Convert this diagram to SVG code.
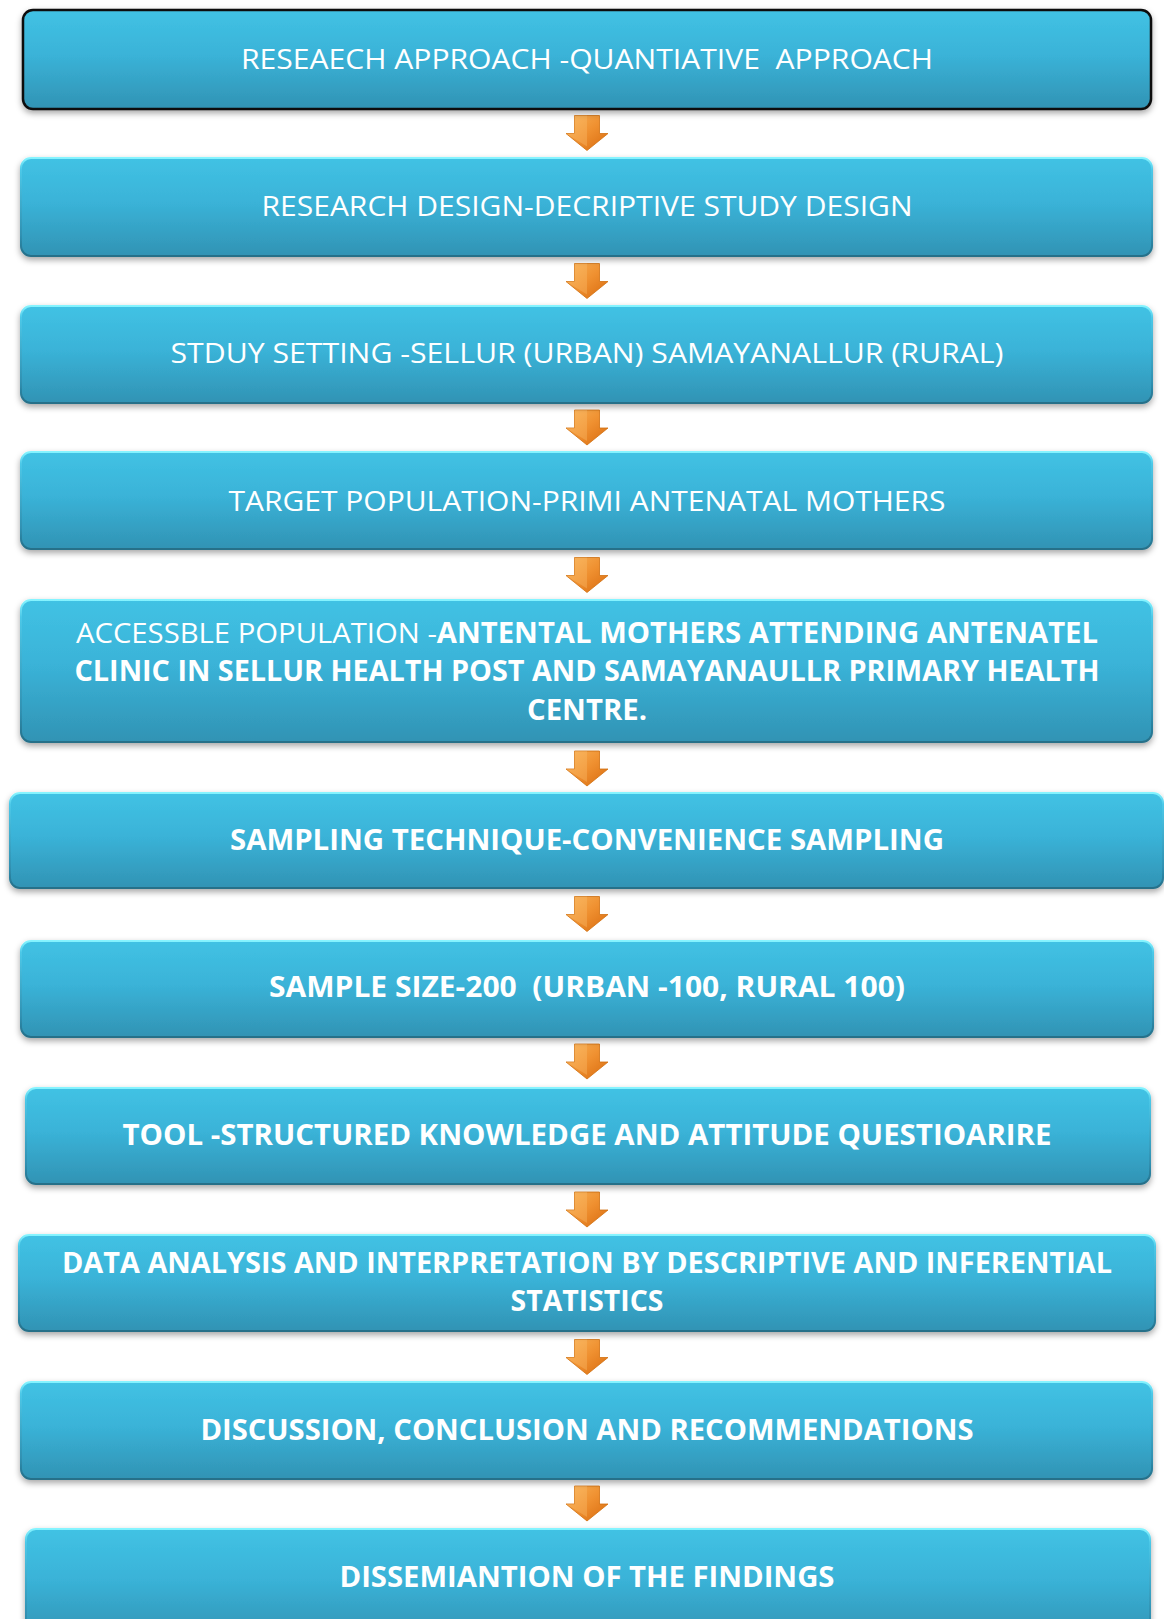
<svg xmlns="http://www.w3.org/2000/svg" width="1164" height="1619" viewBox="0 0 1164 1619">
  <defs>
    <linearGradient id="boxFill" x1="0" y1="0" x2="0" y2="1">
      <stop offset="0" stop-color="#41c2e4"/>
      <stop offset="0.45" stop-color="#3ab3d8"/>
      <stop offset="1" stop-color="#3193b4"/>
    </linearGradient>
    <linearGradient id="boxEdge" x1="0" y1="0" x2="0" y2="1">
      <stop offset="0" stop-color="#86f4ff"/>
      <stop offset="0.12" stop-color="#4cc8e8"/>
      <stop offset="0.8" stop-color="#2f8fb0"/>
      <stop offset="1" stop-color="#256f88"/>
    </linearGradient>
    <linearGradient id="arrowFill" x1="0" y1="0" x2="1" y2="1">
      <stop offset="0" stop-color="#f9b256"/>
      <stop offset="0.5" stop-color="#ef9030"/>
      <stop offset="1" stop-color="#d86a0e"/>
    </linearGradient>
    <filter id="shadow" x="-5%" y="-20%" width="110%" height="150%">
      <feDropShadow dx="0" dy="3" stdDeviation="3" flood-color="#000" flood-opacity="0.35"/>
    </filter>
    <g id="arrow">
      <path d="M-12.5,0 H12.5 V18 H21 L0,35 L-21,18 H-12.5 Z" fill="url(#arrowFill)" stroke="#d0700f" stroke-width="0.8"/>
      <path d="M-12.5,0 H0 V31 L-21,18 H-12.5 Z" fill="#fbc070" opacity="0.35"/>
    </g>
  </defs>
  <style>
    .box { fill: url(#boxFill); stroke: url(#boxEdge); stroke-width: 2; filter: url(#shadow); }
    .box1 { fill: url(#boxFill); stroke: #111; stroke-width: 2.5; filter: url(#shadow); }
    .t { font-family: "Open Sans", "Liberation Sans", sans-serif; font-size: 28px; fill: #ffffff; text-anchor: middle; white-space: pre; }
    .b { font-weight: 700; }
  </style>

  <rect width="1164" height="1619" fill="#ffffff"/>

  <!-- step arrows between boxes -->
  <g id="connectors">
    <use href="#arrow" x="587" y="115.5"/>
    <use href="#arrow" x="587" y="263.5"/>
    <use href="#arrow" x="587" y="410"/>
    <use href="#arrow" x="587" y="557.5"/>
    <use href="#arrow" x="587" y="751"/>
    <use href="#arrow" x="587" y="896.5"/>
    <use href="#arrow" x="587" y="1044"/>
    <use href="#arrow" x="587" y="1192"/>
    <use href="#arrow" x="587" y="1339.5"/>
    <use href="#arrow" x="587" y="1486"/>
  </g>

  <g id="approach">
    <rect class="box1" x="23" y="10" width="1128" height="99" rx="10"/>
    <text class="t" x="587" y="69" textLength="692" lengthAdjust="spacingAndGlyphs" xml:space="preserve">RESEAECH APPROACH -QUANTIATIVE  APPROACH</text>
  </g>

  <g id="design">
    <rect class="box" x="21" y="158" width="1131" height="98" rx="10"/>
    <text class="t" x="587" y="215.5" textLength="651" lengthAdjust="spacingAndGlyphs">RESEARCH DESIGN-DECRIPTIVE STUDY DESIGN</text>
  </g>

  <g id="setting">
    <rect class="box" x="21" y="306" width="1131" height="97" rx="10"/>
    <text class="t" x="587" y="363" textLength="833" lengthAdjust="spacingAndGlyphs">STDUY SETTING -SELLUR (URBAN) SAMAYANALLUR (RURAL)</text>
  </g>

  <g id="target">
    <rect class="box" x="21" y="452" width="1131" height="97" rx="10"/>
    <text class="t" x="587" y="511" textLength="717" lengthAdjust="spacingAndGlyphs">TARGET POPULATION-PRIMI ANTENATAL MOTHERS</text>
  </g>

  <g id="accessible">
    <rect class="box" x="21" y="600" width="1131" height="142" rx="10"/>
    <text class="t" x="587" y="643" textLength="1022" lengthAdjust="spacingAndGlyphs">ACCESSBLE POPULATION -<tspan class="b">ANTENTAL MOTHERS ATTENDING ANTENATEL</tspan></text>
    <text class="t b" x="587" y="681" textLength="1025" lengthAdjust="spacingAndGlyphs">CLINIC IN SELLUR HEALTH POST AND SAMAYANAULLR PRIMARY HEALTH</text>
    <text class="t b" x="587" y="719.5" textLength="120" lengthAdjust="spacingAndGlyphs">CENTRE.</text>
  </g>

  <g id="sampling">
    <rect class="box" x="10" y="793" width="1153" height="95" rx="10"/>
    <text class="t b" x="587" y="850" textLength="714" lengthAdjust="spacingAndGlyphs">SAMPLING TECHNIQUE-CONVENIENCE SAMPLING</text>
  </g>

  <g id="size">
    <rect class="box" x="21" y="941" width="1132" height="96" rx="10"/>
    <text class="t b" x="587" y="997" textLength="636" lengthAdjust="spacingAndGlyphs" xml:space="preserve">SAMPLE SIZE-200  (URBAN -100, RURAL 100)</text>
  </g>

  <g id="tool">
    <rect class="box" x="26" y="1088" width="1124" height="96" rx="10"/>
    <text class="t b" x="587" y="1145" textLength="929" lengthAdjust="spacingAndGlyphs">TOOL -STRUCTURED KNOWLEDGE AND ATTITUDE QUESTIOARIRE</text>
  </g>

  <g id="analysis">
    <rect class="box" x="19" y="1235" width="1136" height="96" rx="10"/>
    <text class="t b" x="587" y="1273" textLength="1050" lengthAdjust="spacingAndGlyphs">DATA ANALYSIS AND INTERPRETATION BY DESCRIPTIVE AND INFERENTIAL</text>
    <text class="t b" x="587" y="1311" textLength="153" lengthAdjust="spacingAndGlyphs">STATISTICS</text>
  </g>

  <g id="discussion">
    <rect class="box" x="21" y="1382" width="1131" height="97" rx="10"/>
    <text class="t b" x="587" y="1440" textLength="773" lengthAdjust="spacingAndGlyphs">DISCUSSION, CONCLUSION AND RECOMMENDATIONS</text>
  </g>

  <g id="dissemination">
    <rect class="box" x="26" y="1529" width="1124" height="110" rx="10"/>
    <text class="t b" x="587" y="1587" textLength="495" lengthAdjust="spacingAndGlyphs">DISSEMIANTION OF THE FINDINGS</text>
  </g>
</svg>
